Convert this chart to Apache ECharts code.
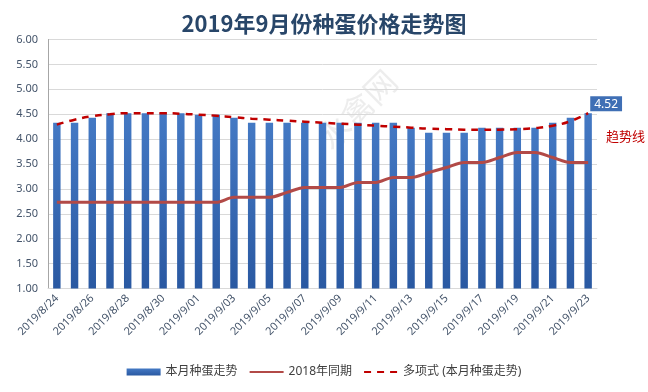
<!DOCTYPE html>
<html>
<head>
<meta charset="utf-8">
<script src="https://cdn.jsdelivr.net/npm/echarts@6/dist/echarts.min.js"></script>
<style>html,body{margin:0;padding:0;background:#fff;}#c{width:648px;height:392px;}</style>
</head>
<body>
<div id="c"></div>
<script>
var categories = ['2019/8/24','2019/8/25','2019/8/26','2019/8/27','2019/8/28','2019/8/29','2019/8/30','2019/8/31',
  '2019/9/01','2019/9/02','2019/9/03','2019/9/04','2019/9/05','2019/9/06','2019/9/07','2019/9/08','2019/9/09','2019/9/10',
  '2019/9/11','2019/9/12','2019/9/13','2019/9/14','2019/9/15','2019/9/16','2019/9/17','2019/9/18','2019/9/19','2019/9/20',
  '2019/9/21','2019/9/22','2019/9/23'];
var thisMonth = [4.33,4.33,4.43,4.52,4.52,4.52,4.52,4.52,4.49,4.49,4.43,4.33,4.33,4.33,4.33,4.33,4.33,4.33,4.33,4.33,
  4.23,4.13,4.13,4.13,4.23,4.23,4.23,4.23,4.33,4.43,4.52];
var lastYear = [2.73,2.73,2.73,2.73,2.73,2.73,2.73,2.73,2.73,2.73,2.83,2.83,2.83,2.93,3.03,3.03,3.03,3.13,3.13,3.23,
  3.23,3.33,3.43,3.53,3.53,3.63,3.73,3.73,3.63,3.53,3.53];
var trend = [4.29,4.39,4.46,4.50,4.52,4.52,4.52,4.51,4.49,4.47,4.44,4.41,4.39,4.37,4.35,4.33,4.31,4.29,4.27,4.25,
  4.23,4.21,4.20,4.19,4.19,4.19,4.20,4.22,4.27,4.36,4.52];
var seriesNames = ['本月种蛋走势','2018年同期','多项式 (本月种蛋走势)'];
var titleText = '2019年9月份种蛋价格走势图';
var trendLabel = '趋势线';

var FF = "'Noto Sans', 'Noto Sans CJK SC', sans-serif";
var barData = thisMonth.map(function(v, i){
  if (i === thisMonth.length - 1) {
    return {value: v, label: {show: true, position: 'top', distance: 4, offset: [18, 2],
      formatter: function(p){ return p.value.toFixed(2); },
      color: '#fff', backgroundColor: '#3F6FB5', padding: [2, 4, 1, 4], fontSize: 12, fontFamily: FF}};
  }
  return v;
});

var chart = echarts.init(document.getElementById('c'), null, {renderer: 'canvas'});
chart.setOption({
  backgroundColor: '#ffffff',
  animation: false,
  title: {text: titleText, left: 'center', top: 8,
    textStyle: {fontSize: 22, fontWeight: 'bold', color: '#284669', fontFamily: "'Noto Sans CJK SC', sans-serif"}},
  graphic: [
    {type: 'text', left: 606, top: 130, style: {text: trendLabel, fill: '#C00000', fontSize: 13, fontFamily: "'Noto Sans CJK SC', sans-serif"}},
    {type: 'text', x: 312, y: 132, rotation: Math.PI/4, style: {text: '水禽网', fill: 'rgba(190,190,190,0.28)', fontSize: 32, fontFamily: "'Noto Sans CJK SC', sans-serif"}}
  ],
  legend: {
    bottom: 9, left: 'center', itemGap: 11, itemWidth: 34, itemHeight: 7,
    textStyle: {fontSize: 12, color: '#404040', fontFamily: FF},
    data: [{name: seriesNames[0], icon: 'rect'},
      {name: seriesNames[1], itemStyle: {opacity: 0}},
      {name: seriesNames[2], itemStyle: {opacity: 0}}]
  },
  grid: {left: 48, right: 51, top: 39.5, bottom: 103.5, containLabel: false},
  xAxis: {
    type: 'category', data: categories,
    axisLine: {lineStyle: {color: '#D9D9D9'}},
    axisTick: {show: false},
    axisLabel: {interval: 1, rotate: 45, fontSize: 11, color: '#44546A', fontFamily: FF, margin: 8}
  },
  yAxis: {
    type: 'value', min: 1, max: 6, interval: 0.5,
    axisLine: {show: true, lineStyle: {color: '#A6A6A6'}},
    axisTick: {show: false},
    splitLine: {lineStyle: {color: '#D9D9D9'}},
    axisLabel: {formatter: function(v){ return v.toFixed(2); }, fontSize: 11, color: '#44546A', fontFamily: FF, margin: 10}
  },
  series: [
    {name: seriesNames[0], type: 'bar', data: barData, barWidth: '42%',
      itemStyle: {color: new echarts.graphic.LinearGradient(0,0,0,1,[{offset:0,color:'#4479C4'},{offset:1,color:'#2A59A2'}])}},
    {name: seriesNames[1], type: 'line', data: lastYear, smooth: 0.3, symbol: 'none',
      lineStyle: {color: '#B24A47', width: 3}, itemStyle: {color: '#B24A47'}},
    {name: seriesNames[2], type: 'line', data: trend, smooth: true, symbol: 'none',
      lineStyle: {color: '#C00000', width: 2.5, type: [7, 6]}, itemStyle: {color: '#C00000'}}
  ]
});
</script>
</body>
</html>
